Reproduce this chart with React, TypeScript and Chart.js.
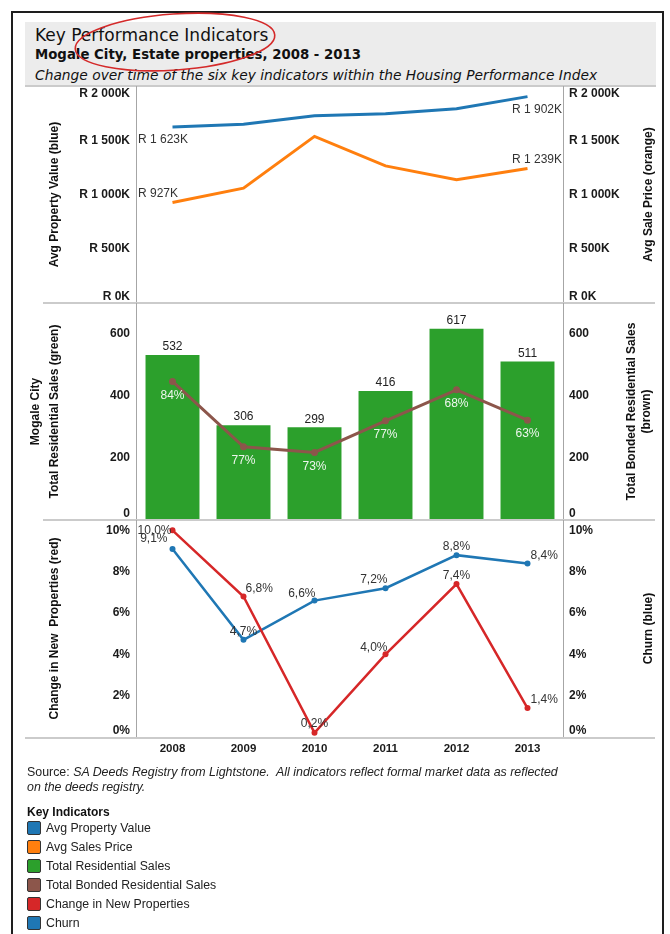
import React, { useEffect, useRef } from "react";
import { Chart, registerables } from "chart.js";

Chart.register(...registerables);

// ---------- data ----------
const years = ["2008", "2009", "2010", "2011", "2012", "2013"];
const avgPropertyValue = [1623, 1647, 1725, 1744, 1790, 1902]; // R thousands
const avgSalePrice = [927, 1059, 1536, 1264, 1137, 1239]; // R thousands
const totalResidentialSales = [532, 306, 299, 416, 617, 511];
const totalBondedSales = [447, 236, 218, 320, 420, 322];
const changeInNewProperties = [10.0, 6.8, 0.2, 4.0, 7.4, 1.4]; // %
const churn = [9.1, 4.7, 6.6, 7.2, 8.8, 8.4]; // %
const valueTicks = [0, 500, 1000, 1500, 2000];
const salesTicks = [0, 200, 400, 600];
const percentTicks = [0, 2, 4, 6, 8, 10];
const legendLabels = [
  "Avg Property Value",
  "Avg Sales Price",
  "Total Residential Sales",
  "Total Bonded Residential Sales",
  "Change in New Properties",
  "Churn",
];

// ---------- styling ----------
const BLUE = "#1f77b4";
const ORANGE = "#ff7f0e";
const GREEN = "#2ca02c";
const BROWN = "#8c564b";
const RED = "#d62728";
const legendColors = [BLUE, ORANGE, GREEN, BROWN, RED, BLUE];

const W = 670;
const H = 934;
const PLOT_L = 137;
const PLOT_R = 563;
const FONT = '"Liberation Sans", Arial, sans-serif';
const TITLE_FONT = '"DejaVu Sans", Verdana, sans-serif';

const fmtRand = (v: number) =>
  v >= 1000
    ? `R ${Math.floor(v / 1000)} ${String(v % 1000).padStart(3, "0")}K`
    : `R ${v}K`;
const fmtPct1 = (v: number) => v.toFixed(1).replace(".", ",") + "%";
const fmtPct0 = (v: number) => `${v}%`;
const fmtInt = (v: number) => `${v}`;

type TitleLine = { text: string; x: number };
type PanelSpec = {
  id: string;
  band: [number, number];
  yMax: number;
  ticks: number[];
  fmt: (v: number) => string;
  leftTitles: TitleLine[];
  rightTitles: TitleLine[];
  hLines: { y: number; x1: number; x2: number }[];
  showX: boolean;
  labels: (chart: any, ctx: CanvasRenderingContext2D) => void;
};

function text(
  ctx: CanvasRenderingContext2D,
  s: string,
  x: number,
  y: number,
  align: CanvasTextAlign,
  font: string,
  color: string
) {
  ctx.font = font;
  ctx.fillStyle = color;
  ctx.textAlign = align;
  ctx.textBaseline = "middle";
  ctx.fillText(s, x, y);
}

function panelPlugin(spec: PanelSpec) {
  return {
    id: "panel_" + spec.id,
    beforeDatasetsDraw(chart: any) {
      const ctx = chart.ctx as CanvasRenderingContext2D;
      const { top, bottom, left, right } = chart.chartArea;
      ctx.save();
      ctx.fillStyle = "#cbcbcb";
      for (const l of spec.hLines) ctx.fillRect(l.x1, l.y - 1, l.x2 - l.x1, 2);
      ctx.fillStyle = "#a6a6a6";
      ctx.fillRect(left - 1, top, 1, bottom - top);
      ctx.fillRect(right, top, 1, bottom - top);
      ctx.restore();
    },
    afterDraw(chart: any) {
      const ctx = chart.ctx as CanvasRenderingContext2D;
      const { top, bottom } = chart.chartArea;
      ctx.save();
      const tickFont = `bold 12px ${FONT}`;
      for (const t of spec.ticks) {
        let yl = chart.scales.y.getPixelForValue(t);
        yl = Math.min(Math.max(yl, top + 8), bottom - 6);
        text(ctx, spec.fmt(t), 130, yl, "right", tickFont, "#1a1a1a");
        let yr = chart.scales.y2.getPixelForValue(t);
        yr = Math.min(Math.max(yr, top + 8), bottom - 6);
        text(ctx, spec.fmt(t), 569, yr, "left", tickFont, "#1a1a1a");
      }
      const cy = (top + bottom) / 2;
      for (const tl of [...spec.leftTitles, ...spec.rightTitles]) {
        ctx.save();
        ctx.translate(tl.x, cy);
        ctx.rotate(-Math.PI / 2);
        text(ctx, tl.text, 0, 0, "center", `bold 12px ${FONT}`, "#111");
        ctx.restore();
      }
      if (spec.showX) {
        const xs = chart.scales.x;
        years.forEach((yr, i) => {
          text(ctx, yr, xs.getPixelForValue(i), 749, "center", `bold 11.5px ${FONT}`, "#1a1a1a");
        });
      }
      spec.labels(chart, ctx);
      ctx.restore();
    },
  };
}

function baseOptions(spec: PanelSpec) {
  return {
    responsive: false,
    animation: false as const,
    devicePixelRatio: 1,
    layout: {
      padding: { left: PLOT_L, right: W - PLOT_R, top: spec.band[0], bottom: H - spec.band[1] },
    },
    plugins: { legend: { display: false }, tooltip: { enabled: false } },
    scales: {
      x: { type: "category" as const, display: false, offset: true },
      y: { display: false, min: 0, max: spec.yMax, position: "left" as const },
      y2: { display: false, min: 0, max: spec.yMax, position: "right" as const },
    },
  };
}

const LABEL_FONT = `12px ${FONT}`;

// ---------- panel specs ----------
const valueSpec: PanelSpec = {
  id: "value",
  band: [86, 303],
  yMax: 2000,
  ticks: valueTicks,
  fmt: fmtRand,
  leftTitles: [{ text: "Avg Property Value (blue)", x: 55 }],
  rightTitles: [{ text: "Avg Sale Price (orange)", x: 649 }],
  hLines: [{ y: 86, x1: 25, x2: 656 }],
  showX: false,
  labels: (chart, ctx) => {
    const { left, right } = chart.chartArea;
    const b = chart.getDatasetMeta(0).data;
    const o = chart.getDatasetMeta(1).data;
    const n = years.length - 1;
    text(ctx, fmtRand(avgPropertyValue[0]), left + 1, b[0].y + 13, "left", LABEL_FONT, "#333");
    text(ctx, fmtRand(avgSalePrice[0]), left + 1, o[0].y - 9, "left", LABEL_FONT, "#333");
    text(ctx, fmtRand(avgPropertyValue[n]), right - 1, b[n].y + 13, "right", LABEL_FONT, "#333");
    text(ctx, fmtRand(avgSalePrice[n]), right - 1, o[n].y - 9, "right", LABEL_FONT, "#333");
  },
};

const salesSpec: PanelSpec = {
  id: "sales",
  band: [303, 520],
  yMax: 700,
  ticks: salesTicks,
  fmt: fmtInt,
  leftTitles: [
    { text: "Mogale City", x: 36 },
    { text: "Total Residential Sales (green)", x: 55 },
  ],
  rightTitles: [
    { text: "Total Bonded Residential Sales", x: 632 },
    { text: "(brown)", x: 647 },
  ],
  hLines: [{ y: 303, x1: 43, x2: 655 }],
  showX: false,
  labels: (chart, ctx) => {
    const line = chart.getDatasetMeta(0).data;
    const bars = chart.getDatasetMeta(1).data;
    bars.forEach((bar: any, i: number) => {
      text(ctx, fmtInt(totalResidentialSales[i]), bar.x, bar.y - 8, "center", LABEL_FONT, "#222");
    });
    line.forEach((pt: any, i: number) => {
      const pct = Math.round((totalBondedSales[i] / totalResidentialSales[i]) * 100);
      text(ctx, `${pct}%`, pt.x, pt.y + 14, "center", LABEL_FONT, "#eef6ee");
    });
  },
};

const redPlacement: [number, number, CanvasTextAlign][] = [
  [-1, 0, "right"],
  [2, -8, "left"],
  [0, -9, "center"],
  [2, -7, "right"],
  [0, -8, "center"],
  [3, -8, "left"],
];
const bluePlacement: [number, number, CanvasTextAlign][] = [
  [-5, -10, "right"],
  [0, -8, "center"],
  [1, -7, "right"],
  [2, -8.5, "right"],
  [0, -8, "center"],
  [3, -8, "left"],
];

const pctSpec: PanelSpec = {
  id: "pct",
  band: [520, 737],
  yMax: 10.5,
  ticks: percentTicks,
  fmt: fmtPct0,
  leftTitles: [{ text: "Change in New  Properties (red)", x: 55 }],
  rightTitles: [{ text: "Churn (blue)", x: 649 }],
  hLines: [
    { y: 520, x1: 43, x2: 655 },
    { y: 738, x1: 25, x2: 655 },
  ],
  showX: true,
  labels: (chart, ctx) => {
    const red = chart.getDatasetMeta(0).data;
    const blue = chart.getDatasetMeta(1).data;
    red.forEach((pt: any, i: number) => {
      const [dx, dy, al] = redPlacement[i];
      text(ctx, fmtPct1(changeInNewProperties[i]), pt.x + dx, pt.y + dy, al, LABEL_FONT, "#333");
    });
    blue.forEach((pt: any, i: number) => {
      const [dx, dy, al] = bluePlacement[i];
      text(ctx, fmtPct1(churn[i]), pt.x + dx, pt.y + dy, al, LABEL_FONT, "#333");
    });
  },
};

function lineDs(label: string, data: number[], color: string, axis: string, width: number, radius: number) {
  return {
    type: "line" as const,
    label,
    data,
    yAxisID: axis,
    borderColor: color,
    backgroundColor: color,
    borderWidth: width,
    pointRadius: radius,
    pointBorderWidth: 0,
    pointBackgroundColor: color,
    tension: 0,
    clip: false as any,
    order: 0,
  };
}

const configs: Record<string, () => any> = {
  value: () => ({
    type: "line",
    data: {
      labels: years,
      datasets: [
        lineDs("Avg Property Value", avgPropertyValue, BLUE, "y", 3, 0),
        lineDs("Avg Sale Price", avgSalePrice, ORANGE, "y2", 3, 0),
      ],
    },
    options: baseOptions(valueSpec),
    plugins: [panelPlugin(valueSpec)],
  }),
  sales: () => ({
    type: "bar",
    data: {
      labels: years,
      datasets: [
        lineDs("Total Bonded Residential Sales", totalBondedSales, BROWN, "y2", 3, 3.5),
        {
          type: "bar",
          label: "Total Residential Sales",
          data: totalResidentialSales,
          yAxisID: "y",
          backgroundColor: GREEN,
          borderWidth: 0,
          barPercentage: 0.76,
          categoryPercentage: 1,
          order: 1,
        },
      ],
    },
    options: baseOptions(salesSpec),
    plugins: [panelPlugin(salesSpec)],
  }),
  pct: () => ({
    type: "line",
    data: {
      labels: years,
      datasets: [
        lineDs("Change in New Properties", changeInNewProperties, RED, "y", 2.5, 3),
        lineDs("Churn", churn, BLUE, "y2", 2.5, 3),
      ],
    },
    options: baseOptions(pctSpec),
    plugins: [panelPlugin(pctSpec)],
  }),
};

function ChartLayer({ name }: { name: string }) {
  const ref = useRef<HTMLCanvasElement | null>(null);
  useEffect(() => {
    if (!ref.current) return;
    const chart = new Chart(ref.current, configs[name]());
    return () => chart.destroy();
  }, [name]);
  return (
    <canvas
      ref={ref}
      width={W}
      height={H}
      style={{ position: "absolute", left: 0, top: 0, width: W, height: H }}
    />
  );
}

export default function App() {
  return (
    <div
      style={{
        position: "absolute",
        left: 0,
        top: 0,
        width: W,
        height: H,
        overflow: "hidden",
        background: "#fff",
        fontFamily: FONT,
      }}
    >
      {/* outer frame */}
      <div
        style={{
          position: "absolute",
          left: 11,
          top: 11,
          width: 653,
          height: 960,
          border: "2px solid #1e1e1e",
          boxSizing: "border-box",
        }}
      />
      {/* title box */}
      <div style={{ position: "absolute", left: 25, top: 22, width: 631, height: 63, background: "#ececec" }} />
      <div
        style={{
          position: "absolute",
          left: 35,
          top: 25,
          lineHeight: "20px",
          fontFamily: TITLE_FONT,
          fontSize: 17,
          color: "#111",
          whiteSpace: "pre",
        }}
      >
        Key Performance Indicators
      </div>
      <div
        style={{
          position: "absolute",
          left: 35,
          top: 46,
          lineHeight: "18px",
          fontFamily: TITLE_FONT,
          fontSize: 13.3,
          fontWeight: "bold",
          color: "#111",
          whiteSpace: "pre",
        }}
      >
        Mogale City, Estate properties, 2008 - 2013
      </div>
      <div
        style={{
          position: "absolute",
          left: 35,
          top: 67,
          lineHeight: "16px",
          fontFamily: TITLE_FONT,
          fontSize: 13.8,
          fontStyle: "italic",
          color: "#111",
          whiteSpace: "pre",
        }}
      >
        Change over time of the six key indicators within the Housing Performance Index
      </div>

      <ChartLayer name="value" />
      <ChartLayer name="sales" />
      <ChartLayer name="pct" />

      {/* red annotation ellipse */}
      <svg width={W} height={100} style={{ position: "absolute", left: 0, top: 0 }}>
        <ellipse
          cx={175}
          cy={42}
          rx={100}
          ry={28}
          transform="rotate(-4 175 42)"
          fill="none"
          stroke="#d42a2a"
          strokeWidth={1.6}
        />
      </svg>

      {/* source */}
      <div
        style={{
          position: "absolute",
          left: 27,
          top: 765,
          fontSize: 12.4,
          lineHeight: "15px",
          color: "#222",
          whiteSpace: "pre",
        }}
      >
        Source: <i>SA Deeds Registry from Lightstone.  All indicators reflect formal market data as reflected</i>
        <br />
        <i>on the deeds registry.</i>
      </div>

      {/* legend */}
      <div
        style={{
          position: "absolute",
          left: 27,
          top: 804,
          fontSize: 12,
          lineHeight: "16px",
          fontWeight: "bold",
          color: "#111",
        }}
      >
        Key Indicators
      </div>
      {legendLabels.map((lab, i) => (
        <div key={lab} style={{ position: "absolute", left: 27, top: 820 + i * 19, height: 16 }}>
          <div
            style={{
              position: "absolute",
              left: 0,
              top: 1,
              width: 14,
              height: 14,
              boxSizing: "border-box",
              background: legendColors[i],
              border: "1px solid #333",
              borderRadius: 2,
            }}
          />
          <div
            style={{
              position: "absolute",
              left: 19,
              top: 0,
              fontSize: 12.3,
              lineHeight: "16px",
              color: "#222",
              whiteSpace: "pre",
            }}
          >
            {lab}
          </div>
        </div>
      ))}
    </div>
  );
}
